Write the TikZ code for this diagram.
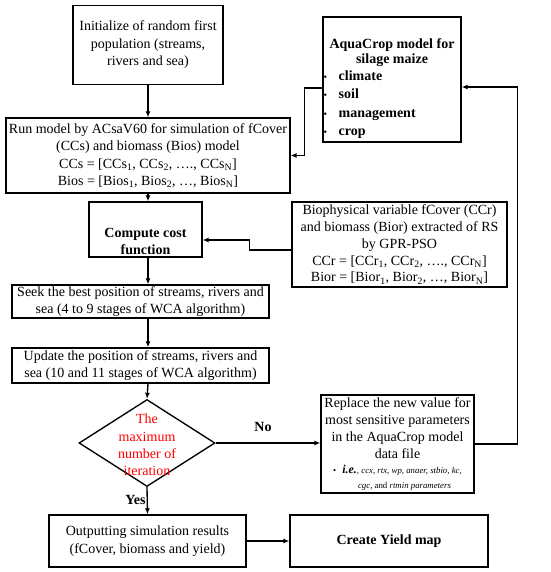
\documentclass[tikz,border=0pt]{standalone}
\usepackage{fontspec}
\setmainfont{Liberation Serif}
\usetikzlibrary{shapes.geometric,arrows.meta}

\begin{document}
\begin{tikzpicture}[x=1pt,y=-1pt,line width=1.35pt,
  box/.style={draw,align=center,inner sep=0pt,font=\fontsize{14}{17.5}\selectfont},
  decision/.style={draw,diamond,inner sep=0pt,minimum width=136pt,minimum height=87pt},
  arr/.style={-{Latex[length=6pt,width=5pt]}},
  lbl/.style={font=\fontsize{14}{17}\selectfont\bfseries}]
\useasboundingbox (0,0) rectangle (550,572);

\node[box,minimum width=150pt,minimum height=79pt] (init) at (148,45)
  {Initialize of random first\\population (streams,\\rivers and sea)};
\node[box,minimum width=284pt,minimum height=75pt] (run) at (148,155.5)
  {Run model by ACsaV60 for simulation of fCover\\(CCs) and biomass (Bios) model\\
   CCs = [CCs\textsubscript{1}, CCs\textsubscript{2}, …., CCs\textsubscript{N}]\\
   Bios = [Bios\textsubscript{1}, Bios\textsubscript{2}, …, Bios\textsubscript{N}]};
\node[box,minimum width=138pt,minimum height=125pt] (aqua) at (392,79.5) {};
\node[lbl,align=center,font=\fontsize{14}{15.5}\selectfont\bfseries] (aquatitle) at (392,52.5)
  {AquaCrop model for\\silage maize};
\node[lbl,align=left,anchor=west,inner sep=0pt,font=\fontsize{14}{18.3}\selectfont\bfseries] (aquainput) at (323,104.5)
  {\makebox[15pt][l]{\normalfont\fontsize{10}{10}\selectfont\textbullet}climate\\
   \makebox[15pt][l]{\normalfont\fontsize{10}{10}\selectfont\textbullet}soil\\
   \makebox[15pt][l]{\normalfont\fontsize{10}{10}\selectfont\textbullet}management\\
   \makebox[15pt][l]{\normalfont\fontsize{10}{10}\selectfont\textbullet}crop};
\node[box,font=\fontsize{14}{17.5}\selectfont\bfseries,minimum width=113pt,minimum height=55pt] (compute) at (145.5,229.5)
  {\rule{0pt}{33pt}Compute cost\\function};
\node[box,font=\fontsize{14}{16.8}\selectfont,minimum width=215pt,minimum height=85pt] (bio) at (399.5,244.5)
  {Biophysical variable fCover (CCr)\\and biomass (Bior) extracted of RS\\by GPR-PSO\\
   CCr = [CCr\textsubscript{1}, CCr\textsubscript{2}, …., CCr\textsubscript{N}]\\
   Bior = [Bior\textsubscript{1}, Bior\textsubscript{2}, …, Bior\textsubscript{N}]};
\node[box,font=\fontsize{14}{16.5}\selectfont,minimum width=257pt,minimum height=33pt] (seek) at (140.5,301.5)
  {Seek the best position of streams, rivers and\\sea (4 to 9 stages of WCA algorithm)};
\node[box,font=\fontsize{14}{16.5}\selectfont,minimum width=257pt,minimum height=35pt] (update) at (140.5,365.5)
  {Update the position of streams, rivers and\\sea (10 and 11 stages of WCA algorithm)};
\node[decision] (max) at (147,443) {};
\node[align=center,text=red,font=\fontsize{14}{17.3}\selectfont] (maxtext) at (147,445)
  {The\\maximum\\number of\\iteration};
\node[box,font=\fontsize{14}{17}\selectfont,minimum width=153pt,minimum height=98pt] (replace) at (397.5,444)
  {Replace the new value for\\most sensitive parameters\\in the AquaCrop model\\data file\\[-2pt]
   {\fontsize{8.8}{10}\selectfont\textbullet\hspace{6pt}{\fontsize{12}{12}\selectfont\bfseries\itshape i.e.}, \itshape ccx, rtx, wp, anaer, stbio, kc,}\\[-2pt]
   {\fontsize{8.8}{10}\selectfont\hspace{14pt}\itshape cgc, \upshape and \itshape rtmin parameters}};
\node[box,minimum width=197pt,minimum height=52pt] (out) at (147.5,541)
  {Outputting simulation results\\(fCover, biomass and yield)};
\node[box,font=\fontsize{14}{17}\selectfont\bfseries,minimum width=198pt,minimum height=52pt] (yield) at (389,541)
  {Create Yield map};
\node[lbl] (no) at (263,427) {No};
\node[lbl] (yes) at (135.5,500) {Yes};

\draw[arr] (init.south) -- (run.north);
\draw[arr] (run.south) -- (run.south |- compute.north);
\draw[arr] (run.south |- compute.south) -- (run.south |- seek.north);
\draw[arr] (run.south |- seek.south) -- (run.south |- update.north);
\draw[arr] (run.south |- update.south) -- (max.north);
\draw[arr] ([yshift=-8.5pt]aqua.west) -- ++(-18,0) |- (run.east);
\draw[arr] ([yshift=-5.5pt]bio.west) -- ++(-42,0) |- ([yshift=-10.5pt]compute.east);
\draw[arr] (max.east) -- (max.east -| replace.west);
\draw[arr] (replace.east) -- ++(43,0) |- ([yshift=-7.5pt]aqua.east);
\draw[arr] (max.south) -- (out.north);
\draw[arr] (out.east) -- (yield.west);
\end{tikzpicture}
\end{document}
